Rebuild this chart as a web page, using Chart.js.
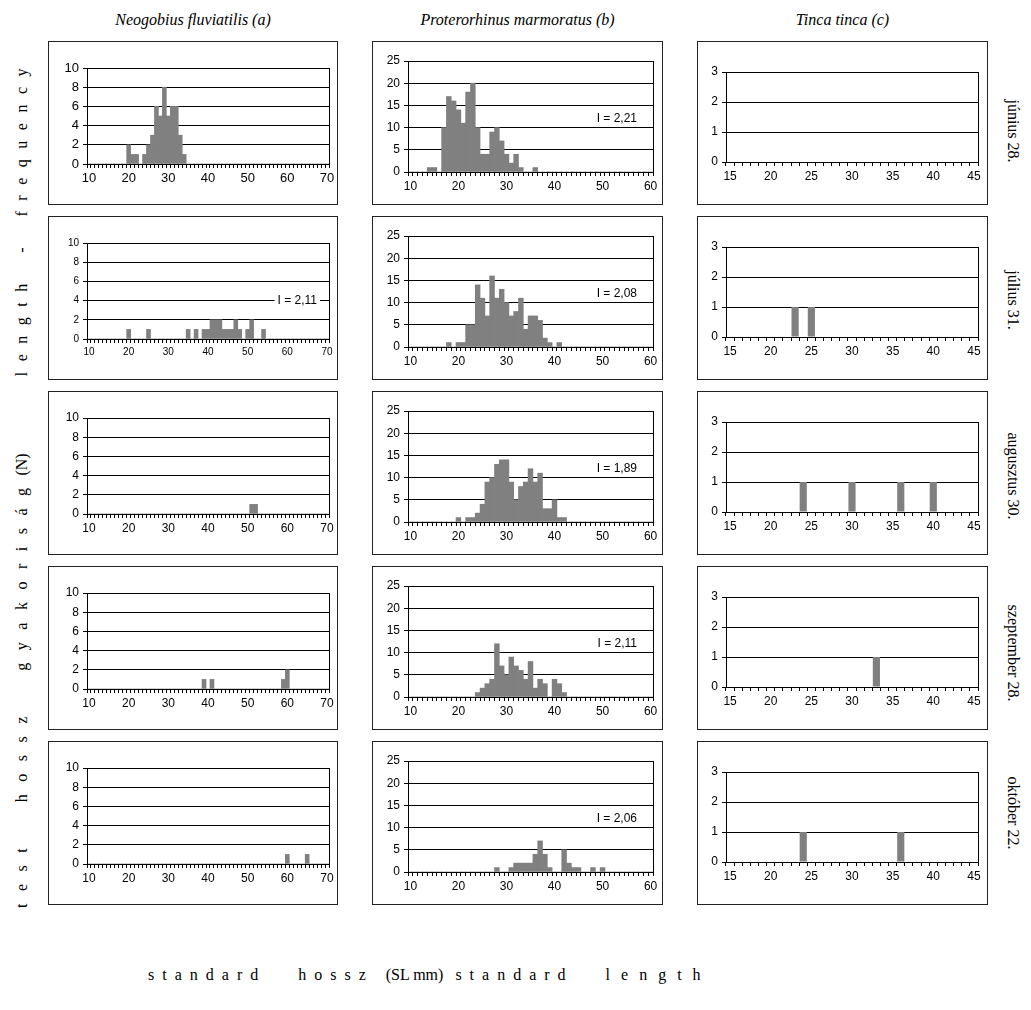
<!DOCTYPE html>
<html>
<head>
<meta charset="utf-8">
<script src="https://cdn.jsdelivr.net/npm/chart.js@4/dist/chart.umd.min.js"></script>
<style>
  body { margin: 0; background: #fff; width: 1031px; height: 1010px; position: relative; overflow: hidden; font-family: "Liberation Serif", "Times New Roman", serif; color: #000; }
  .box { position: absolute; border: 1.5px solid #222; box-sizing: border-box; }
  canvas.panel { position: absolute; }
  .title { position: absolute; top: 11px; font-style: italic; font-size: 16px; white-space: nowrap; transform: translateX(-50%); }
  .rot { position: absolute; font-size: 16px; white-space: nowrap; }
  .tight { letter-spacing: 0; word-spacing: 0; }
</style>
</head>
<body>
<script>
// column / row texts
const species = ['Neogobius fluviatilis (a)', 'Proterorhinus marmoratus (b)', 'Tinca tinca (c)'];
const dates = ['június 28.', 'július 31.', 'augusztus 30.', 'szeptember 28.', 'október 22.'];

// Neogobius fluviatilis - standard length (mm) and number of fish
const aJunLen = [20, 21, 22, 24, 25, 26, 27, 28, 29, 30, 31, 32, 33, 34];
const aJunN   = [2, 1, 1, 1, 2, 3, 6, 5, 8, 5, 6, 6, 3, 1];
const aJulLen = [20, 25, 35, 37, 39, 40, 41, 42, 43, 44, 45, 46, 47, 48, 50, 51, 54];
const aJulN   = [1, 1, 1, 1, 1, 1, 2, 2, 2, 1, 1, 1, 2, 1, 1, 2, 1];
const aAugLen = [51, 52];
const aAugN   = [1, 1];
const aSepLen = [39, 41, 59, 60];
const aSepN   = [1, 1, 1, 2];
const aOctLen = [60, 65];
const aOctN   = [1, 1];

// Proterorhinus marmoratus
const bJunLen = [14, 15, 17, 18, 19, 20, 21, 22, 23, 24, 25, 26, 27, 28, 29, 30, 31, 32, 33, 36];
const bJunN   = [1, 1, 10, 17, 16, 14, 11, 18, 20, 10, 4, 4, 9, 10, 7, 4, 2, 4, 1, 1];
const bJulLen = [18, 20, 21, 22, 23, 24, 25, 26, 27, 28, 29, 30, 31, 32, 33, 34, 35, 36, 37, 38, 39, 41];
const bJulN   = [1, 1, 1, 5, 5, 14, 11, 7, 16, 11, 13, 10, 7, 8, 11, 4, 7, 7, 6, 2, 1, 1];
const bAugLen = [20, 22, 23, 24, 25, 26, 27, 28, 29, 30, 31, 32, 33, 34, 35, 36, 37, 38, 39, 40, 41, 42];
const bAugN   = [1, 1, 1, 2, 4, 9, 10, 13, 14, 14, 9, 5, 8, 9, 12, 9, 11, 3, 3, 5, 1, 1];
const bSepLen = [24, 25, 26, 27, 28, 29, 30, 31, 32, 33, 34, 35, 36, 37, 38, 40, 41, 42];
const bSepN   = [1, 2, 3, 4, 12, 7, 5, 9, 7, 6, 4, 8, 2, 4, 3, 4, 3, 1];
const bOctLen = [28, 31, 32, 33, 34, 35, 36, 37, 38, 39, 42, 43, 44, 45, 48, 50];
const bOctN   = [1, 1, 2, 2, 2, 2, 4, 7, 4, 1, 5, 2, 1, 1, 1, 1];

// Tinca tinca
const cJunLen = [];
const cJunN   = [];
const cJulLen = [23, 25];
const cJulN   = [1, 1];
const cAugLen = [24, 30, 36, 40];
const cAugN   = [1, 1, 1, 1];
const cSepLen = [33];
const cSepN   = [1];
const cOctLen = [24, 36];
const cOctN   = [1, 1];

// I index written inside some panels
const aNote = ['', 'I = 2,11', '', '', ''];
const bNote = ['I = 2,21', 'I = 2,08', 'I = 1,89', 'I = 2,11', 'I = 2,06'];

// axes
const aYTicks = [0, 2, 4, 6, 8, 10];
const bYTicks = [0, 5, 10, 15, 20, 25];
const cYTicks = [0, 1, 2, 3];
const aXRange = [10, 70];
const bXRange = [10, 60];
const cXRange = [15, 45];

// page layout
const colLeft = [48, 372, 697];
const colWidth = [290, 291, 291];
const rowTop = [41, 216, 391, 566, 741];
const boxHeight = 164;
const dateCenter = [131, 300, 476, 653, 813];

Chart.defaults.font.family = '"Liberation Sans", Arial, sans-serif';
Chart.defaults.font.size = 12;
Chart.defaults.color = '#000';

function range(r) {
  const out = [];
  for (let v = r[0]; v <= r[1]; v++) out.push(v);
  return out;
}

function counts(cats, lens, ns) {
  const out = cats.map(() => 0);
  lens.forEach((l, i) => { out[cats.indexOf(l)] = ns[i]; });
  return out;
}

const columns = [
  { cats: range(aXRange), yTicks: aYTicks, step: 10, bar: 1, noteValue: 4, noteInset: 12,
    pad: { l: 39, r: 9, t: 27, b: 41 }, fonts: [13, 10, 12, 12, 12],
    rows: [[aJunLen, aJunN], [aJulLen, aJulN], [aAugLen, aAugN], [aSepLen, aSepN], [aOctLen, aOctN]], notes: aNote },
  { cats: range(bXRange), yTicks: bYTicks, step: 10, bar: 1, noteValue: 12, noteInset: 16,
    pad: { l: 36, r: 10, t: 20, b: 33 }, fonts: [12, 12, 12, 12, 12],
    rows: [[bJunLen, bJunN], [bJulLen, bJulN], [bAugLen, bAugN], [bSepLen, bSepN], [bOctLen, bOctN]], notes: bNote },
  { cats: range(cXRange), yTicks: cYTicks, step: 5, bar: 0.88, noteValue: 0, noteInset: 0,
    pad: { l: 29, r: 10, t: 31, b: 43 }, fonts: [12, 12, 12, 12, 12],
    rows: [[cJunLen, cJunN], [cJulLen, cJulN], [cAugLen, cAugN], [cSepLen, cSepN], [cOctLen, cOctN]], notes: ['', '', '', '', ''] }
];

// frame around the plot area
const framePlugin = {
  id: 'frame',
  afterDraw(chart) {
    const a = chart.chartArea, ctx = chart.ctx;
    ctx.save();
    ctx.strokeStyle = '#000';
    ctx.lineWidth = 1;
    ctx.strokeRect(Math.round(a.left) + 0.5, Math.round(a.top) + 0.5, Math.round(a.right - a.left), Math.round(a.bottom - a.top));
    ctx.restore();
  }
};

// "I = ..." text box
const notePlugin = {
  id: 'note',
  afterDatasetsDraw(chart, args, opts) {
    if (!opts.text) return;
    const ctx = chart.ctx;
    const x = chart.chartArea.right - opts.inset;
    const y = chart.scales.y.getPixelForValue(opts.value);
    ctx.save();
    ctx.font = '12px "Liberation Sans", Arial, sans-serif';
    const w = ctx.measureText(opts.text).width;
    ctx.fillStyle = '#fff';
    ctx.fillRect(x - w - 3, y - 7, w + 6, 14);
    ctx.fillStyle = '#000';
    ctx.textAlign = 'right';
    ctx.textBaseline = 'middle';
    ctx.fillText(opts.text, x, y);
    ctx.restore();
  }
};

columns.forEach((col, ci) => {
  const t = document.createElement('div');
  t.className = 'title';
  t.textContent = species[ci];
  t.style.left = (colLeft[ci] + colWidth[ci] / 2) + 'px';
  document.body.appendChild(t);

  col.rows.forEach((row, ri) => {
    const box = document.createElement('div');
    box.className = 'box';
    box.style.left = colLeft[ci] + 'px';
    box.style.top = rowTop[ri] + 'px';
    box.style.width = colWidth[ci] + 'px';
    box.style.height = boxHeight + 'px';
    document.body.appendChild(box);

    const cv = document.createElement('canvas');
    cv.className = 'panel';
    cv.width = colWidth[ci];
    cv.height = boxHeight;
    cv.style.left = colLeft[ci] + 'px';
    cv.style.top = rowTop[ri] + 'px';
    document.body.appendChild(cv);

    const p = col.pad;
    const fs = col.fonts[ri];
    const yMax = col.yTicks[col.yTicks.length - 1];
    new Chart(cv, {
      type: 'bar',
      data: {
        labels: col.cats,
        datasets: [{
          data: counts(col.cats, row[0], row[1]),
          backgroundColor: '#808080',
          borderWidth: 0,
          barPercentage: col.bar,
          categoryPercentage: 1
        }]
      },
      options: {
        responsive: false,
        animation: false,
        layout: { padding: { left: 0, right: p.r, top: p.t, bottom: 0 } },
        plugins: {
          legend: { display: false },
          tooltip: { enabled: false },
          note: { text: col.notes[ri], value: col.noteValue, inset: col.noteInset }
        },
        scales: {
          x: {
            grid: { display: true, drawOnChartArea: false, drawTicks: true, tickLength: 4, color: '#000', offset: true },
            border: { display: true, color: '#000' },
            ticks: {
              autoSkip: false, maxRotation: 0, minRotation: 0, padding: 3, font: { size: fs },
              callback: (v) => (col.cats[v] % col.step === 0 ? String(col.cats[v]) : '')
            },
            afterFit: (s) => { s.height = p.b; }
          },
          y: {
            min: 0, max: yMax,
            ticks: { stepSize: col.yTicks[1] - col.yTicks[0], padding: 4, font: { size: fs } },
            grid: { color: '#000', lineWidth: 1, tickLength: 4 },
            border: { display: true, color: '#000' },
            afterFit: (s) => { s.width = p.l; }
          }
        }
      },
      plugins: [framePlugin, notePlugin]
    });
  });
});

// date labels on the right, rotated clockwise
dates.forEach((d, ri) => {
  const el = document.createElement('div');
  el.className = 'rot';
  el.textContent = d;
  el.style.left = '1013px';
  el.style.top = dateCenter[ri] + 'px';
  el.style.transform = 'translate(-50%, -50%) rotate(90deg)';
  document.body.appendChild(el);
});
</script>

<div class="rot" style="left:22px; top:483px; word-spacing:-6.5px; transform: translate(-50%, -50%) rotate(-90deg);"><span style="letter-spacing:12.5px; word-spacing:17px;">test hossz gyakoriság</span> <span class="tight">(N)</span> <span style="margin-left:77px; letter-spacing:10.5px; word-spacing:6px;">length - frequency</span></div>
<div class="rot" style="left:148px; top:966px; letter-spacing:8px; word-spacing:20px;">standard hossz<span style="word-spacing:0"> </span><span class="tight">(SL mm)</span><span style="word-spacing:0"> </span>standard <span style="letter-spacing:11px;">length</span></div>
</body>
</html>
